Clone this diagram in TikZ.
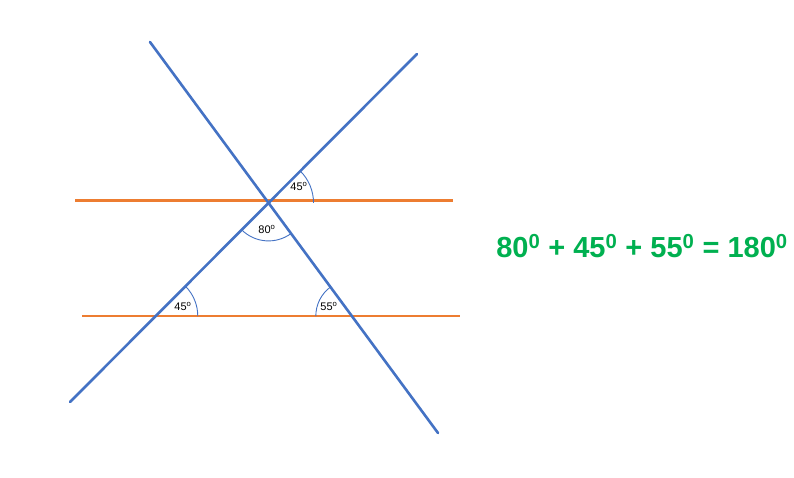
\documentclass[tikz,border=0pt]{standalone}
\usepackage{fontspec}
\setmainfont{Liberation Sans}
\usetikzlibrary{intersections,calc}
\definecolor{lineblue}{HTML}{4472C4}
\definecolor{lineorange}{HTML}{ED7D31}
\definecolor{eqgreen}{HTML}{00B050}
\begin{document}
\begin{tikzpicture}[x=1pt,y=-1pt,
  blueline/.style={draw=lineblue,line width=2.6pt,line cap=round},
  orangeline/.style={draw=lineorange,line width=2.6pt},
  anglearc/.style={draw=lineblue,line width=0.9pt},
  anglelabel/.style={font=\fontsize{11}{11}\selectfont,inner sep=0pt}]
\useasboundingbox[fill=white] (0,0) rectangle (794,477);
% lines
\coordinate (a1) at (150,42);
\coordinate (a2) at (438,433);
\coordinate (b1) at (417,54);
\coordinate (b2) at (70,402);
\coordinate (o1) at (75,200.5);
\coordinate (o2) at (453,200.5);
\coordinate (p1) at (82,316);
\coordinate (p2) at (460,316);
\draw[orangeline,name path=top] (o1) -- (o2);
\draw[orangeline,name path=bot] (p1) -- (p2);
\draw[blueline,name path=la] (a1) -- (a2);
\draw[blueline,name path=lb] (b1) -- (b2);
\path[name intersections={of=la and lb,by=X}];
\path[name intersections={of=lb and bot,by=L}];
\path[name intersections={of=la and bot,by=R}];
% arcs (y axis points down: angles are mirrored)
\draw[anglearc] ($(X)+(45,0)$) arc[start angle=0,end angle=-45,radius=45];
\draw[anglearc] ($(X)+(135:38)$) arc[start angle=135,end angle=53.6,radius=38];
\draw[anglearc] ($(L)+(42,0)$) arc[start angle=0,end angle=-45,radius=42];
\draw[anglearc] ($(R)+(180:36)$) arc[start angle=180,end angle=233.6,radius=36];
% labels
\node[anglelabel] (l1) at (299,186) {45\textsuperscript{o}};
\node[anglelabel] (l2) at (267,229) {80\textsuperscript{o}};
\node[anglelabel] (l3) at (183,306) {45\textsuperscript{o}};
\node[anglelabel] (l4) at (329,306) {55\textsuperscript{o}};
\node[text=eqgreen,font=\fontsize{29}{29}\selectfont\bfseries,inner sep=0pt] (eq) at (642,246)
  {80\textsuperscript{0} + 45\textsuperscript{0} + 55\textsuperscript{0} = 180\textsuperscript{0}};
\end{tikzpicture}
\end{document}
